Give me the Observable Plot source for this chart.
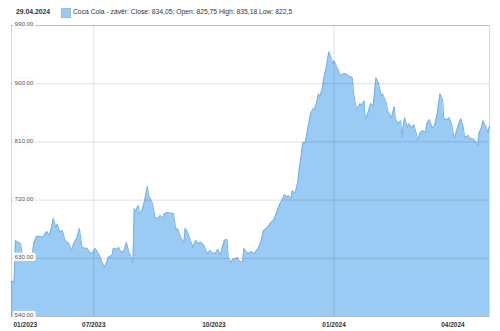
<!DOCTYPE html>
<html><head><meta charset="utf-8">
<script src="https://cdn.jsdelivr.net/npm/d3@7"></script>
<script src="https://cdn.jsdelivr.net/npm/@observablehq/plot@0.6"></script>
<style>
body{margin:0;background:#fff;font-family:"Liberation Sans",Arial,sans-serif;}
#hdr{position:relative;height:20px;width:500px;}
#date{position:absolute;left:16px;top:8.5px;font-size:6.8px;line-height:1;font-weight:bold;color:#333;}
#sw{position:absolute;left:61px;top:7.5px;width:8px;height:8px;background:#99cbf5;border:0.5px solid #8cc0ec;}
#leg{position:absolute;left:73px;top:8.5px;font-size:6.75px;line-height:1;color:#333;}
</style></head><body>
<div id="hdr"><span id="date"></span><span id="sw"></span><span id="leg"></span></div>
<div id="chart"></div>
<script>
const dates = [
  "2023-04-29","2023-05-01","2023-05-02","2023-05-04","2023-05-06","2023-05-07","2023-05-08","2023-05-11","2023-05-13","2023-05-15","2023-05-16","2023-05-18","2023-05-21","2023-05-23","2023-05-26","2023-05-28","2023-05-30","2023-05-31",
  "2023-06-02","2023-06-03","2023-06-05","2023-06-07","2023-06-09","2023-06-12","2023-06-14","2023-06-16","2023-06-18","2023-06-20","2023-06-22","2023-06-24","2023-06-26","2023-06-28","2023-06-30",
  "2023-07-02","2023-07-04","2023-07-06","2023-07-09","2023-07-11","2023-07-12","2023-07-15","2023-07-16","2023-07-19","2023-07-20","2023-07-22","2023-07-24","2023-07-26","2023-07-28","2023-07-30","2023-07-31",
  "2023-08-01","2023-08-02","2023-08-04","2023-08-05","2023-08-07","2023-08-09","2023-08-11","2023-08-12","2023-08-14","2023-08-15","2023-08-17","2023-08-19","2023-08-21","2023-08-23","2023-08-24","2023-08-27","2023-08-29","2023-08-31",
  "2023-09-02","2023-09-03","2023-09-06","2023-09-08","2023-09-09","2023-09-11","2023-09-13","2023-09-15","2023-09-17","2023-09-19","2023-09-21","2023-09-23","2023-09-25","2023-09-26","2023-09-28","2023-09-30",
  "2023-10-02","2023-10-04","2023-10-06","2023-10-07","2023-10-09","2023-10-11","2023-10-12","2023-10-14","2023-10-16","2023-10-17","2023-10-19","2023-10-21","2023-10-23","2023-10-24","2023-10-26","2023-10-28","2023-10-30",
  "2023-11-01","2023-11-02","2023-11-04","2023-11-06","2023-11-08","2023-11-11","2023-11-13","2023-11-16","2023-11-18","2023-11-20","2023-11-22","2023-11-24","2023-11-26","2023-11-27","2023-11-29","2023-11-30",
  "2023-12-02","2023-12-04","2023-12-05","2023-12-07","2023-12-08","2023-12-10","2023-12-12","2023-12-14","2023-12-16","2023-12-17","2023-12-19","2023-12-20","2023-12-21","2023-12-23","2023-12-24","2023-12-26","2023-12-28","2023-12-30","2023-12-31",
  "2024-01-01","2024-01-03","2024-01-06","2024-01-08","2024-01-10","2024-01-12","2024-01-15","2024-01-16","2024-01-18","2024-01-19","2024-01-21","2024-01-22","2024-01-24","2024-01-25","2024-01-27","2024-01-29","2024-01-31",
  "2024-02-01","2024-02-02","2024-02-04","2024-02-06","2024-02-07","2024-02-10","2024-02-11","2024-02-14","2024-02-16","2024-02-17","2024-02-19","2024-02-21","2024-02-22","2024-02-23","2024-02-24","2024-02-26","2024-02-27",
  "2024-03-01","2024-03-02","2024-03-04","2024-03-05","2024-03-07","2024-03-09","2024-03-11","2024-03-12","2024-03-14","2024-03-16","2024-03-18","2024-03-20","2024-03-22","2024-03-24","2024-03-25","2024-03-28","2024-03-29","2024-03-31",
  "2024-04-02","2024-04-03","2024-04-05","2024-04-07","2024-04-09","2024-04-10","2024-04-13","2024-04-14","2024-04-16","2024-04-18","2024-04-20","2024-04-21","2024-04-23","2024-04-24","2024-04-26","2024-04-28","2024-04-29"
];
const closes = [
  594.5,593.0,657.8,654.7,653.2,639.3,630.0,633.1,630.0,634.6,653.2,664.0,664.0,662.4,671.7,665.5,680.9,691.7,
  677.8,682.5,670.1,673.2,657.8,653.2,642.3,654.7,660.9,676.3,647.0,645.4,645.4,639.3,637.7,
  645.4,639.3,631.5,616.1,623.8,631.5,634.6,645.4,643.9,647.0,639.3,640.8,654.7,639.3,630.0,623.8,
  707.2,702.5,711.8,699.4,704.1,719.5,741.1,727.2,719.5,714.9,693.3,691.7,696.4,691.7,699.4,701.0,699.4,699.4,
  673.2,676.3,660.9,654.7,676.3,670.1,657.8,647.0,657.8,653.2,654.7,651.6,642.3,637.7,642.3,637.7,
  637.7,643.9,634.6,643.9,657.8,659.3,631.5,623.8,630.0,628.5,631.5,623.8,625.4,645.4,639.3,637.7,640.8,
  636.2,640.8,645.4,656.2,673.2,677.8,684.0,690.2,701.0,711.8,719.5,728.8,724.1,727.2,722.6,734.9,
  730.3,745.7,762.7,792.0,809.0,809.0,832.1,853.7,861.5,859.9,873.8,884.6,880.0,892.3,907.7,924.7,949.4,938.6,930.9,
  935.5,926.3,912.4,915.5,915.5,912.4,909.3,884.6,861.5,863.0,869.2,866.1,873.8,844.5,855.3,869.2,866.1,
  886.1,909.3,901.6,881.5,884.6,870.7,858.4,847.6,864.5,846.0,838.3,842.9,816.7,835.2,847.6,832.1,838.3,
  832.1,836.8,822.9,812.1,824.4,827.5,824.4,838.3,844.5,832.1,835.2,853.7,884.6,876.9,846.0,844.5,847.6,838.3,
  815.2,821.3,835.2,846.0,832.1,816.7,819.8,815.2,815.2,812.1,804.4,824.4,832.1,842.9,835.2,824.4,834.05
];
const yTicks = [540, 630, 720, 810, 900, 990];
const xDomain = ["2023-04-29", "2024-04-29"];
const xGridDates = ["2023-07-01", "2024-01-01"];
const xTickDates = ["2023-04-29", "2023-07-01", "2023-10-01", "2024-01-01", "2024-04-01"];
const xTickLabels = ["01/2023", "07/2023", "10/2023", "01/2024", "04/2024"];
const headerDate = "29.04.2024";
const legendText = "Coca Cola - závěr: Close: 834,05; Open: 825,75 High: 835,18 Low: 822,5";

document.getElementById("date").textContent = headerDate;
document.getElementById("leg").textContent = legendText;

const data = dates.map((d, i) => ({date: new Date(d), close: closes[i]}));
const tickDates = xTickDates.map(d => new Date(d));
const labelOf = new Map(tickDates.map((d, i) => [+d, xTickLabels[i]]));
const fmt = d3.format(".2f");

const fill = "#99cbf5";
const chart = Plot.plot({
  width: 500,
  height: 311,
  marginTop: 5,
  marginBottom: 15,
  marginLeft: 11,
  marginRight: 11,
  style: {fontFamily: "Liberation Sans, Arial, sans-serif", background: "#fff"},
  x: {type: "utc", domain: xDomain.map(d => new Date(d)), axis: null},
  y: {domain: [yTicks[0], yTicks[yTicks.length - 1]], axis: null},
  marks: [
    Plot.areaY(data, {x: "date", y1: yTicks[0], y2: "close", fill: fill}),
    Plot.lineY(data, {x: "date", y: "close", stroke: "#74b3e9", strokeWidth: 1}),
    Plot.ruleY(yTicks, {stroke: "#000", strokeOpacity: 0.12}),
    Plot.ruleX(xGridDates.map(d => new Date(d)), {stroke: "#000", strokeOpacity: 0.12}),
    Plot.frame({stroke: "#000", strokeOpacity: 0.15}),
    Plot.text(yTicks, {y: d => d, text: d => fmt(d), frameAnchor: "left", textAnchor: "start", dx: 3, dy: -1, fontSize: 6.2, fill: "#555", stroke: "#fff", strokeWidth: 3, paintOrder: "stroke", ariaLabel: "ylabels"}),
    Plot.axisX(tickDates.slice(0, 1), {tickSize: 0, tickPadding: 5.5, textAnchor: "start", dx: 2, tickFormat: d => labelOf.get(+d), fontSize: 6.5, fontWeight: "bold", fill: "#333"}),
    Plot.axisX(tickDates.slice(1), {tickSize: 0, tickPadding: 5.5, tickFormat: d => labelOf.get(+d), fontSize: 6.5, fontWeight: "bold", fill: "#333"})
  ]
});
document.getElementById("chart").append(chart);

const yLabelTexts = new Set(yTicks.map(fmt));
d3.select(chart).selectAll("text").each(function() {
  if (!yLabelTexts.has(this.textContent)) return;
  const b = this.getBBox();
  if (!b || !b.width) return;
  const r = document.createElementNS("http://www.w3.org/2000/svg", "rect");
  r.setAttribute("x", b.x - 1.5);
  r.setAttribute("y", b.y - 0.5);
  r.setAttribute("width", b.width + 3);
  r.setAttribute("height", b.height + 1);
  r.setAttribute("rx", 1.5);
  r.setAttribute("fill", "#fff");
  r.setAttribute("stroke", "#dcdcdc");
  r.setAttribute("stroke-width", 0.5);
  const t = this.getAttribute("transform");
  if (t) r.setAttribute("transform", t);
  this.parentNode.insertBefore(r, this);
});
</script>
</body></html>
